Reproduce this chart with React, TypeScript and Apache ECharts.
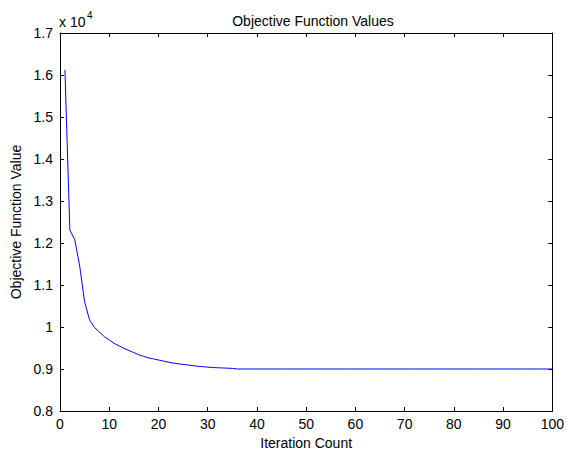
import React, { useEffect, useRef } from "react";
import * as echarts from "echarts";

const iterations: number[] = [
  1, 2, 3, 4, 5, 6, 7, 8, 9, 10, 11, 12, 13, 14, 15, 16, 17, 18, 19, 20,
  21, 22, 23, 24, 25, 26, 27, 28, 29, 30, 31, 32, 33, 34, 35, 36, 37, 38, 39, 40,
  41, 42, 43, 44, 45, 46, 47, 48, 49, 50, 51, 52, 53, 54, 55, 56, 57, 58, 59, 60,
  61, 62, 63, 64, 65, 66, 67, 68, 69, 70, 71, 72, 73, 74, 75, 76, 77, 78, 79, 80,
  81, 82, 83, 84, 85, 86, 87, 88, 89, 90, 91, 92, 93, 94, 95, 96, 97, 98, 99, 100,
];

const objectiveValues: number[] = [
  16120, 12310, 12080, 11450, 10600, 10170, 9990, 9880, 9770, 9690,
  9610, 9550, 9490, 9440, 9390, 9340, 9300, 9265, 9240, 9215,
  9190, 9165, 9140, 9125, 9110, 9095, 9080, 9065, 9055, 9045,
  9035, 9030, 9025, 9020, 9015, 9000, 9000, 9000, 9000, 9000,
  9000, 9000, 9000, 9000, 9000, 9000, 9000, 9000, 9000, 9000,
  9000, 9000, 9000, 9000, 9000, 9000, 9000, 9000, 9000, 9000,
  9000, 9000, 9000, 9000, 9000, 9000, 9000, 9000, 9000, 9000,
  9000, 9000, 9000, 9000, 9000, 9000, 9000, 9000, 9000, 9000,
  9000, 9000, 9000, 9000, 9000, 9000, 9000, 9000, 9000, 9000,
  9000, 9000, 9000, 9000, 9000, 9000, 9000, 9000, 9000, 9000,
];

const titleText = "Objective Function Values";
const xAxisName = "Iteration Count";
const yAxisName = "Objective Function Value";
const exponentBase = "x 10";
const exponentPower = "4";

const FONT = "'Liberation Sans', Arial, sans-serif";
const FS = 14;

export default function App() {
  const ref = useRef<HTMLDivElement>(null);

  useEffect(() => {
    document.body.style.margin = "0";
    document.body.style.overflow = "hidden";
    if (!ref.current) return;
    const chart = echarts.init(ref.current, null, { renderer: "svg" });
    const data = iterations.map((x, i) => [x, objectiveValues[i]]);
    const axisLine = { show: true, onZero: false, lineStyle: { color: "#000", width: 1 } };
    const tick = { show: true, inside: true, length: 4, lineStyle: { color: "#000", width: 1 } };
    const label = { color: "#000", fontFamily: FONT, fontSize: FS };
    chart.setOption({
      animation: false,
      backgroundColor: "#fff",
      title: {
        text: titleText,
        left: 308,
        top: 9,
        textAlign: "center",
        textStyle: { color: "#000", fontFamily: FONT, fontSize: FS, fontWeight: "normal" },
      },
      graphic: [
        {
          type: "text",
          x: 59,
          y: 15,
          style: { text: exponentBase, fontFamily: FONT, fontSize: FS, fill: "#000" },
        },
        {
          type: "text",
          x: 87,
          y: 10,
          style: { text: exponentPower, fontFamily: FONT, fontSize: 10, fill: "#000" },
        },
      ],
      grid: { left: 60, top: 33, width: 496, height: 381, containLabel: false },
      xAxis: [
        {
          type: "value",
          min: 0,
          max: 100,
          interval: 10,
          position: "bottom",
          axisLine,
          axisTick: tick,
          axisLabel: { ...label, margin: 6, showMaxLabel: true },
          splitLine: { show: false },
          name: xAxisName,
          nameLocation: "middle",
          nameGap: 25,
          nameTextStyle: { color: "#000", fontFamily: FONT, fontSize: FS },
        },
        {
          type: "value",
          min: 0,
          max: 100,
          interval: 10,
          position: "top",
          axisLine,
          axisTick: tick,
          axisLabel: { show: false },
          splitLine: { show: false },
        },
      ],
      yAxis: [
        {
          type: "value",
          min: 8000,
          max: 17000,
          interval: 1000,
          position: "left",
          axisLine,
          axisTick: tick,
          axisLabel: {
            ...label,
            margin: 7,
            formatter: (v: number) => String(Math.round(v / 100) / 100),
          },
          splitLine: { show: false },
          name: yAxisName,
          nameLocation: "middle",
          nameGap: 37,
          nameTextStyle: { color: "#000", fontFamily: FONT, fontSize: FS },
        },
        {
          type: "value",
          min: 8000,
          max: 17000,
          interval: 1000,
          position: "right",
          axisLine,
          axisTick: tick,
          axisLabel: { show: false },
          splitLine: { show: false },
        },
      ],
      series: [
        {
          type: "line",
          data,
          xAxisIndex: 0,
          yAxisIndex: 0,
          showSymbol: false,
          symbol: "none",
          lineStyle: { color: "#0000ff", width: 1 },
          itemStyle: { color: "#0000ff" },
        },
      ],
    });
    return () => chart.dispose();
  }, []);

  return (
    <div
      ref={ref}
      style={{ width: 567, height: 455, background: "#fff", overflow: "hidden" }}
    />
  );
}
